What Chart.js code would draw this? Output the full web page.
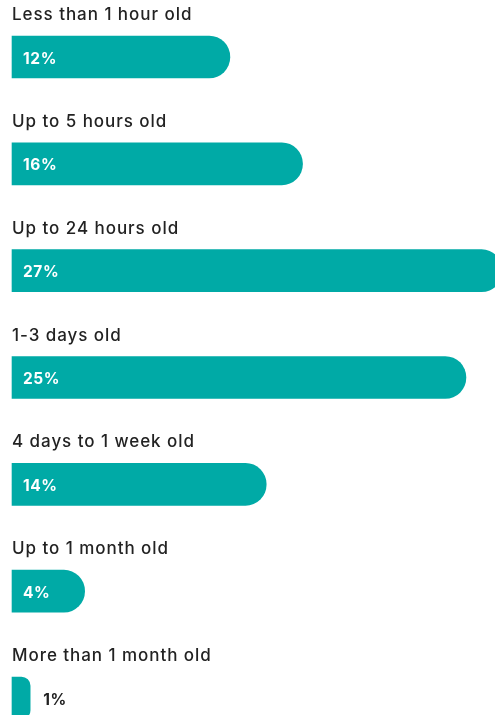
<!DOCTYPE html>
<html>
<head>
  <title>Content age</title>
  <style>
    html, body { margin: 0; padding: 0; background: #fff; }
    #wrap { width: 495px; height: 715px; }
  </style>
</head>
<body>
  <div id="wrap">
    <canvas id="canvas"></canvas>
  </div>
  <script src="https://cdn.jsdelivr.net/npm/chart.js"></script>
  <script>
    var categories = ['Less than 1 hour old', 'Up to 5 hours old', 'Up to 24 hours old', '1-3 days old',
                      '4 days to 1 week old', 'Up to 1 month old', 'More than 1 month old'];
    var shares = [12, 16, 27, 25, 14, 4, 1];

    var teal = '#00aaa6';
    var fontFamily = 'Inter, "Open Sans", sans-serif';

    // category name above each bar, percent inside (or just past) the bar
    var labelPlugin = {
      id: 'rowLabels',
      afterDatasetsDraw: function(chart) {
        var ctx = chart.ctx;
        var meta = chart.getDatasetMeta(0);
        ctx.save();
        meta.data.forEach(function(bar, i) {
          var left = chart.chartArea.left;
          ctx.font = '500 17px ' + fontFamily;
          ctx.letterSpacing = '0.95px';
          ctx.fillStyle = '#222';
          ctx.textAlign = 'left';
          ctx.textBaseline = 'alphabetic';
          ctx.fillText(categories[i], left, bar.y - 37);

          var txt = shares[i] + '%';
          ctx.font = 'bold 15.5px ' + fontFamily;
          ctx.letterSpacing = '0.6px';
          ctx.textBaseline = 'middle';
          var w = ctx.measureText(txt).width;
          var barW = bar.x - left;
          if (barW > w + 22) {
            ctx.fillStyle = '#fff';
            ctx.fillText(txt, left + 11, bar.y + 2);
          } else {
            ctx.fillStyle = '#222';
            ctx.fillText(txt, bar.x + 13, bar.y + 2);
          }
        });
        ctx.restore();
      }
    };

    var config = {
      type: 'bar',
      data: {
        labels: categories,
        datasets: [{
          data: shares,
          backgroundColor: teal,
          barThickness: 42,
          borderRadius: { topRight: 21, bottomRight: 21, topLeft: 0, bottomLeft: 0 },
          borderSkipped: false,
          clip: false
        }]
      },
      options: {
        indexAxis: 'y',
        responsive: true,
        maintainAspectRatio: false,
        animation: false,
        layout: { padding: { left: 12, right: 0, top: 57, bottom: 17 } },
        plugins: {
          legend: { display: false },
          tooltip: { enabled: false }
        },
        scales: {
          x: { display: false, min: 0, max: 26.6, grid: { display: false } },
          y: { display: false, offset: false, grid: { display: false } }
        }
      },
      plugins: [labelPlugin]
    };

    window.onload = function() {
      var ctx = document.getElementById('canvas').getContext('2d');
      window.myBar = new Chart(ctx, config);
    };
  </script>
</body>
</html>
